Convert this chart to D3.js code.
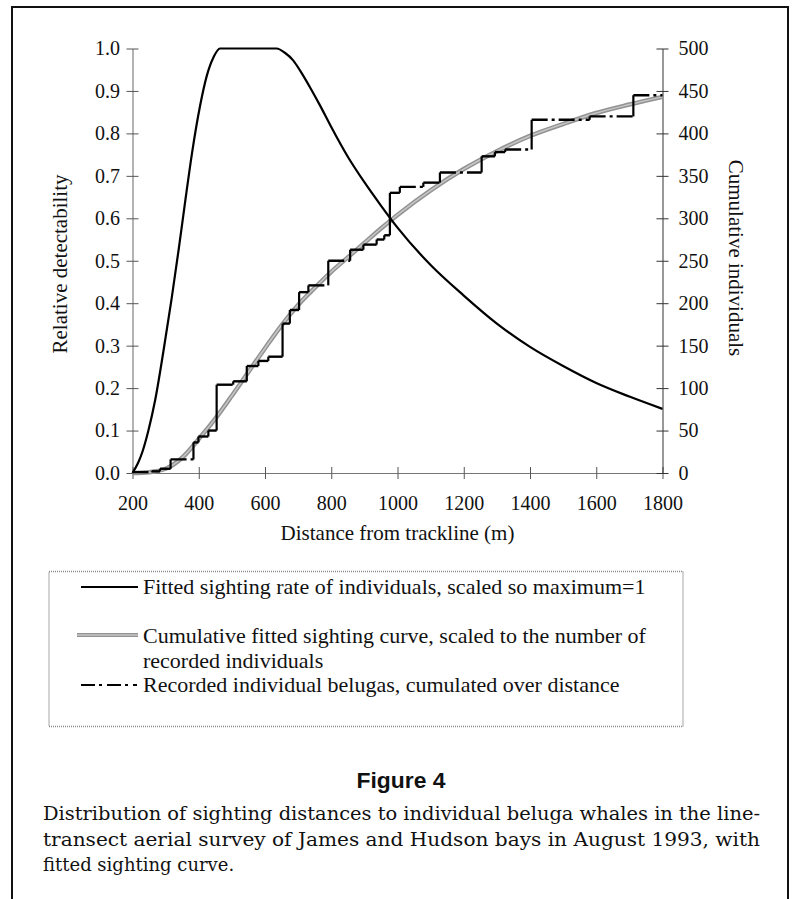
<!DOCTYPE html>
<html>
<head>
<meta charset="utf-8">
<script src="https://cdn.jsdelivr.net/npm/d3@7"></script>
<style>
body { margin: 0; background: #fff; }
svg { display: block; }
</style>
</head>
<body>
<div id="chart"></div>
<script>
let w = 794; let h = 899;

// fitted sighting rate of individuals, scaled so maximum = 1
let rateDist = [200, 217, 230, 248, 268, 293, 318, 340, 360, 379, 404, 424, 445, 464, 635, 660, 685, 706, 740, 766, 800, 850, 900, 950, 1000, 1100, 1200, 1300, 1400, 1500, 1600, 1700, 1800];
let rateVal = [0, 0.024, 0.05, 0.10, 0.17, 0.285, 0.41, 0.53, 0.645, 0.75, 0.865, 0.935, 0.98, 1.0, 1.0, 0.99, 0.972, 0.948, 0.903, 0.866, 0.815, 0.745, 0.685, 0.63, 0.578, 0.49, 0.418, 0.352, 0.297, 0.252, 0.212, 0.18, 0.151];

// cumulative fitted sighting curve (individuals)
let fitDist = [200, 250, 300, 350, 400, 450, 500, 550, 600, 650, 700, 750, 800, 850, 900, 950, 1000, 1100, 1200, 1300, 1400, 1500, 1600, 1700, 1800];
let fitVal = [0, 1, 5, 18, 40, 64, 91, 119, 147, 174, 198, 218, 237, 254, 271, 288, 304, 333, 358, 379, 397, 411, 424, 434, 443];

// recorded individual belugas, cumulated over distance (step starts)
let stepDist = [200, 258, 283, 315, 384, 399, 429, 454, 504, 545, 580, 610, 653, 675, 703, 731, 791, 857, 897, 937, 960, 977, 1007, 1078, 1128, 1254, 1294, 1325, 1405, 1580, 1712, 1800];
let stepCount = [1, 2, 5, 16, 36, 43, 50, 104, 108, 126, 132, 137, 176, 192, 213, 221, 250, 263, 269, 275, 280, 330, 337, 342, 354, 373, 378, 381, 416, 420, 445, 445];

let xTicks = [200, 400, 600, 800, 1000, 1200, 1400, 1600, 1800];
let leftTicks = [0, 0.1, 0.2, 0.3, 0.4, 0.5, 0.6, 0.7, 0.8, 0.9, 1.0];
let rightTicks = [0, 50, 100, 150, 200, 250, 300, 350, 400, 450, 500];

let legendLabels = [
    ["Fitted sighting rate of individuals, scaled so maximum=1"],
    ["Cumulative fitted sighting curve, scaled to the number of", "recorded individuals"],
    ["Recorded individual belugas, cumulated over distance"]
];
let captionTitle = "Figure 4";
let captionLines = [
    "Distribution of sighting distances to individual beluga whales in the line-",
    "transect aerial survey of James and Hudson bays in August 1993, with",
    "fitted sighting curve."
];

let serif = "'Liberation Serif', 'Times New Roman', serif";

let graph = d3.select("#chart").append("svg");
graph.attr("width", w).attr("height", h);

//scales
let xScale = d3.scaleLinear().domain([200, 1800]).range([132.5, 662.5]);
let yLeft = d3.scaleLinear().domain([0, 1]).range([473, 48.5]);
let yRight = d3.scaleLinear().domain([0, 500]).range([473, 48.5]);

//outer frame, open at the bottom
graph.append("path")
    .attr("d", "M12,899V7H788V899")
    .attr("fill", "none")
    .attr("stroke", "#111")
    .attr("stroke-width", 2);

//axes
let xAxis = graph.append("g")
    .attr("transform", "translate(0,473)")
    .call(d3.axisBottom(xScale).tickValues(xTicks).tickFormat(d3.format("d")).tickSize(6).tickSizeOuter(0).tickPadding(17));
xAxis.selectAll(".tick line").attr("y1", -6).attr("y2", 6).attr("stroke", "#555");
xAxis.select(".domain").attr("stroke", "#777");

let lAxis = graph.append("g")
    .attr("transform", "translate(132.5,0)")
    .call(d3.axisLeft(yLeft).tickValues(leftTicks).tickFormat(d3.format(".1f")).tickSize(6).tickSizeOuter(0).tickPadding(6.5));
lAxis.selectAll(".tick line").attr("x1", -6).attr("x2", 6).attr("stroke", "#555");
lAxis.select(".domain").attr("stroke", "#666");

let rAxis = graph.append("g")
    .attr("transform", "translate(662.5,0)")
    .call(d3.axisRight(yRight).tickValues(rightTicks).tickFormat(d3.format("d")).tickSize(6).tickSizeOuter(0).tickPadding(10));
rAxis.selectAll(".tick line").attr("x1", -6).attr("x2", 6).attr("stroke", "#333");
rAxis.select(".domain").attr("stroke", "#333");

graph.selectAll(".tick text")
    .attr("font-family", serif)
    .attr("font-size", "20px")
    .attr("fill", "#111");

//axis titles
graph.append("text")
    .attr("transform", "translate(67,264) rotate(-90)")
    .attr("text-anchor", "middle")
    .attr("font-family", serif)
    .attr("font-size", "21px")
    .attr("fill", "#111")
    .text("Relative detectability");

graph.append("text")
    .attr("transform", "translate(729,258) rotate(90)")
    .attr("text-anchor", "middle")
    .attr("font-family", serif)
    .attr("font-size", "21px")
    .attr("fill", "#111")
    .text("Cumulative individuals");

graph.append("text")
    .attr("x", 397.5)
    .attr("y", 540)
    .attr("text-anchor", "middle")
    .attr("font-family", serif)
    .attr("font-size", "21px")
    .attr("fill", "#111")
    .text("Distance from trackline (m)");

//cumulative fitted curve (grey textured band)
let fitLine = d3.line()
    .x((d) => xScale(d[0]))
    .y((d) => yRight(d[1]))
    .curve(d3.curveMonotoneX);
let fitPts = fitDist.map((d, i) => [d, fitVal[i]]);

graph.append("path")
    .attr("d", fitLine(fitPts))
    .attr("fill", "none")
    .attr("stroke", "#939393")
    .attr("stroke-width", 4.5);
graph.append("path")
    .attr("d", fitLine(fitPts))
    .attr("fill", "none")
    .attr("stroke", "#c6c6c6")
    .attr("stroke-width", 1.5);

//recorded individuals, horizontal runs dash-dot, risers solid
let runs = stepDist.slice(0, -1).map((d, i) => ({ x0: d, x1: stepDist[i + 1], y: stepCount[i] }));
let risers = stepDist.slice(1).map((d, i) => ({ x: d, y0: stepCount[i], y1: stepCount[i + 1] }))
    .filter((d) => d.y0 != d.y1);

graph.append("g").selectAll("line").data(runs).enter().append("line")
    .attr("x1", (d) => xScale(d.x0))
    .attr("x2", (d) => xScale(d.x1))
    .attr("y1", (d) => yRight(d.y))
    .attr("y2", (d) => yRight(d.y))
    .attr("stroke", "#000")
    .attr("stroke-width", 2.4)
    .attr("stroke-dasharray", "16,4,3,4");

graph.append("g").selectAll("line").data(risers).enter().append("line")
    .attr("x1", (d) => xScale(d.x))
    .attr("x2", (d) => xScale(d.x))
    .attr("y1", (d) => yRight(d.y0))
    .attr("y2", (d) => yRight(d.y1))
    .attr("stroke", "#000")
    .attr("stroke-width", 2.2);

//fitted sighting rate curve
let rateLine = d3.line()
    .x((d) => xScale(d[0]))
    .y((d) => yLeft(d[1]))
    .curve(d3.curveMonotoneX);

graph.append("path")
    .attr("d", rateLine(rateDist.map((d, i) => [d, rateVal[i]])))
    .attr("fill", "none")
    .attr("stroke", "#000")
    .attr("stroke-width", 2.2);

//legend
graph.append("rect")
    .attr("x", 49)
    .attr("y", 571.5)
    .attr("width", 634)
    .attr("height", 155)
    .attr("fill", "none")
    .attr("stroke", "#8a8a8a")
    .attr("stroke-width", 1.5)
    .attr("stroke-dasharray", "1,1");

let lg = graph.append("g");
lg.append("line").attr("x1", 81).attr("x2", 138).attr("y1", 587).attr("y2", 587)
    .attr("stroke", "#000").attr("stroke-width", 2.2);
lg.append("line").attr("x1", 77).attr("x2", 138).attr("y1", 635).attr("y2", 635)
    .attr("stroke", "#939393").attr("stroke-width", 4);
lg.append("line").attr("x1", 77).attr("x2", 138).attr("y1", 635).attr("y2", 635)
    .attr("stroke", "#c6c6c6").attr("stroke-width", 1.3);
lg.append("line").attr("x1", 81).attr("x2", 137).attr("y1", 685).attr("y2", 685)
    .attr("stroke", "#000").attr("stroke-width", 2.2).attr("stroke-dasharray", "14,4,3,5");

let lgBase = [[594], [643, 668], [692]];
legendLabels.forEach((lines, i) => {
    lines.forEach((t, j) => {
        lg.append("text")
            .attr("x", 143)
            .attr("y", lgBase[i][j])
            .attr("font-family", serif)
            .attr("font-size", "22px")
            .attr("fill", "#111")
            .text(t);
    });
});

//caption
graph.append("text")
    .attr("x", 401)
    .attr("y", 788)
    .attr("text-anchor", "middle")
    .attr("font-family", "'Liberation Sans Narrow', 'Liberation Sans', Arial, sans-serif")
    .attr("font-weight", "bold")
    .attr("font-size", "22px")
    .attr("fill", "#111")
    .attr("textLength", 89)
    .attr("lengthAdjust", "spacingAndGlyphs")
    .text(captionTitle);

let capBase = [820, 846, 871];
captionLines.forEach((t, i) => {
    let txt = graph.append("text")
        .attr("x", 43)
        .attr("y", capBase[i])
        .attr("font-family", "'DejaVu Serif', serif")
        .attr("font-size", "18px")
        .attr("fill", "#111")
        .text(t);
    if (i < 2) txt.attr("textLength", 717).attr("lengthAdjust", "spacingAndGlyphs");
});
</script>
</body>
</html>
